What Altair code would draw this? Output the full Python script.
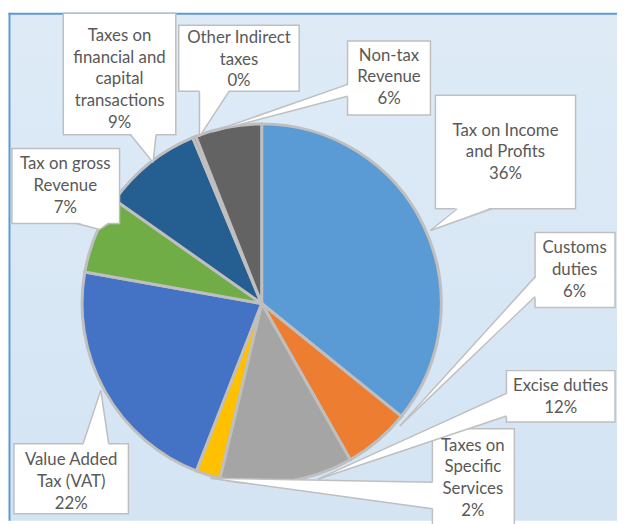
import altair as alt
import pandas as pd

# ---- data ----
categories = ["Tax on Income and Profits", "Customs duties", "Excise duties",
              "Taxes on Specific Services", "Value Added Tax (VAT)", "Tax on gross Revenue",
              "Taxes on financial and capital transactions", "Other Indirect taxes", "Non-tax Revenue"]
shares = [36, 6, 12, 2.2, 22, 7, 9, 0.3, 6]
label_lines = [["Tax on Income", "and Profits"], ["Customs", "duties"], ["Excise duties"],
               ["Taxes on", "Specific", "Services"], ["Value Added", "Tax (VAT)"],
               ["Tax on gross", "Revenue"], ["Taxes on", "financial and", "capital", "transactions"],
               ["Other Indirect", "taxes"], ["Non-tax", "Revenue"]]
colors = ["#5B9BD5", "#ED7D31", "#A5A5A5", "#FFC000", "#4472C4", "#70AD47",
          "#255E91", "#9E480E", "#636363"]

# ---- layout (image pixel coords) ----
W, H = 617, 516
CX, CY, R = 265, 304, 182
boxes = [
    (441, 583, 93, 208), (542, 623, 232, 308), (513, 623, 372, 424),
    (438, 521, 431, 530), (14, 130, 446, 517), (12, 121, 147, 223),
    (64, 178, 10, 133), (181, 303, 22, 89), (352, 436, 38, 113)]
# x centre, y of first line
text_pos = [(512, 129), (582, 248), (568, 388), (479, 448), (72, 463), (66, 163),
            (121, 33), (242, 35), (394, 53)]
LINE_H = 22
pointers = [
    ("bottom", 463, 498, (436, 230)), ("left", 277, 297, (405, 428)),
    ("left", 395, 418, (322, 482)), ("left", 485, 512, (213, 481)),
    ("top", 84, 110, (102, 392)), ("bottom", 77, 110, (101, 229)),
    ("bottom", 132, 158, (155, 161)), ("bottom", 202, 232, (202, 135)),
    ("left", 82, 94, (215, 130))]

total = sum(shares)
pie_df = pd.DataFrame({"cat": categories, "share": shares, "idx": list(range(len(shares)))})

box_rows, text_rows, harea, varea, sides = [], [], [], [], []
for i, cat in enumerate(categories):
    x0, x1, y0, y1 = boxes[i]
    box_rows.append({"cat": cat, "x0": x0, "x1": x1, "y0": y0, "y1": y1})
    pct = round(shares[i] / total * 100)
    text_rows.append({"cat": cat, "tx": text_pos[i][0], "ty": text_pos[i][1],
                      "label": "\n".join(label_lines[i] + [f"{pct}%"])})
    edge, a, b, (tx, ty) = pointers[i]
    if edge in ("bottom", "top"):
        ey = y1 if edge == "bottom" else y0
        inset = -1.5 if edge == "bottom" else 1.5
        harea += [{"cat": cat, "py": ey + inset, "px": a, "px2": b},
                  {"cat": cat, "py": ty, "px": tx, "px2": tx}]
        sides += [{"sx": a, "sy": ey, "ex": tx, "ey": ty}, {"sx": b, "sy": ey, "ex": tx, "ey": ty}]
    else:
        ex = x0
        varea += [{"cat": cat, "px": ex + 1.5, "py": a, "py2": b},
                  {"cat": cat, "px": tx, "py": ty, "py2": ty}]
        sides += [{"sx": ex, "sy": a, "ex": tx, "ey": ty}, {"sx": ex, "sy": b, "ex": tx, "ey": ty}]

xs = alt.Scale(domain=[8, 625], nice=False, zero=False)
ys = alt.Scale(domain=[8, 524], nice=False, zero=False, reverse=True)
GRAY = "#BFBFBF"

bg = alt.Chart(alt.Data(values=[{}])).mark_rect(
    fill=alt.Gradient(gradient="linear", x1=0, y1=0, x2=0, y2=1,
                      stops=[alt.GradientStop(offset=0, color="#DEEBF7"),
                             alt.GradientStop(offset=1, color="#D4E4F3")])
).encode(x=alt.value(1.5), x2=alt.value(W), y=alt.value(2.5), y2=alt.value(H))

border_top = alt.Chart(alt.Data(values=[{}])).mark_rule(color="#5B9BD5", strokeWidth=2).encode(
    x=alt.value(0.5), x2=alt.value(W), y=alt.value(2.5))
border_left = alt.Chart(alt.Data(values=[{}])).mark_rule(color="#5B9BD5", strokeWidth=2).encode(
    x=alt.value(1.5), y=alt.value(1.5), y2=alt.value(H))

pie = alt.Chart(pie_df).mark_arc(outerRadius=R, stroke=GRAY, strokeWidth=3).encode(
    theta=alt.Theta("share:Q", stack=True),
    color=alt.Color("cat:N", scale=alt.Scale(domain=categories, range=colors), legend=None),
    order=alt.Order("idx:Q"),
    x=alt.value(CX - 8), y=alt.value(CY - 8))

box = alt.Chart(pd.DataFrame(box_rows)).mark_rect(fill="white", stroke=GRAY, strokeWidth=1.5).encode(
    x=alt.X("x0:Q", scale=xs, axis=None), x2="x1:Q",
    y=alt.Y("y0:Q", scale=ys, axis=None), y2="y1:Q")

tri_h = alt.Chart(pd.DataFrame(harea)).mark_area(orient="horizontal", fill="white").encode(
    y=alt.Y("py:Q", scale=ys, axis=None), x=alt.X("px:Q", scale=xs, axis=None, stack=None),
    x2="px2:Q", detail="cat:N")
tri_v = alt.Chart(pd.DataFrame(varea)).mark_area(orient="vertical", fill="white").encode(
    x=alt.X("px:Q", scale=xs, axis=None), y=alt.Y("py:Q", scale=ys, axis=None, stack=None),
    y2="py2:Q", detail="cat:N")

side = alt.Chart(pd.DataFrame(sides)).mark_rule(color=GRAY, strokeWidth=1.5).encode(
    x=alt.X("sx:Q", scale=xs, axis=None), x2="ex:Q",
    y=alt.Y("sy:Q", scale=ys, axis=None), y2="ey:Q")

text = alt.Chart(pd.DataFrame(text_rows)).mark_text(
    font="Lato", fontSize=17, color="#595959", lineBreak="\n", lineHeight=LINE_H,
    align="center", baseline="middle").encode(
    x=alt.X("tx:Q", scale=xs, axis=None), y=alt.Y("ty:Q", scale=ys, axis=None), text="label:N")

chart = alt.layer(bg, border_top, border_left, pie, box, tri_h, tri_v, side, text).properties(
    width=W, height=H, autosize=alt.AutoSizeParams(type="none"), padding=0,
    background="white").configure_view(strokeWidth=0)

chart.save("out.html", embed_options={"renderer": "svg", "actions": False})
